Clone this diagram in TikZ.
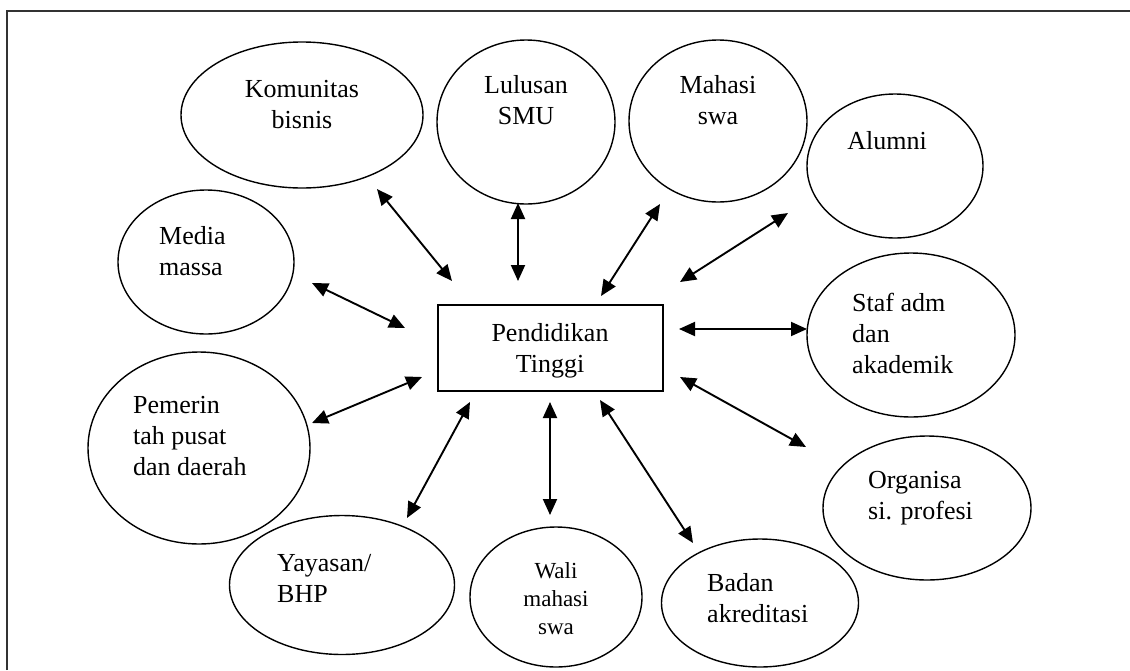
\documentclass[tikz,border=0pt]{standalone}
\usepackage{fontspec}
\setmainfont{Liberation Serif}
\usetikzlibrary{arrows.meta,shapes.geometric}

\tikzset{
  oval/.style={draw, ellipse, inner sep=0pt, line width=1.4pt},
  hubbox/.style={draw, rectangle, inner sep=0pt, line width=1.4pt},
  lbl/.style={inner sep=0pt, font=\fontsize{26}{31}\selectfont},
  lblsmall/.style={inner sep=0pt, font=\fontsize{23}{28}\selectfont},
  link/.style={line width=1.9pt, {Triangle[length=16pt,width=14pt]}-{Triangle[length=16pt,width=14pt]}},
  frameline/.style={line width=1.2pt, draw=black!80}
}

\begin{document}
\begin{tikzpicture}[x=1pt, y=-1pt]
\useasboundingbox (0,0) rectangle (1130,670);

% outer frame (only top and left edges fall inside the page)
\draw[frameline] (7,670) -- (7,11) -- (1130,11);

% central box
\node[hubbox, minimum width=225pt, minimum height=86pt] (pt) at (550.5,348) {};
% multi-line labels are placed by the baseline of their last line
\node[lbl, align=center, anchor=base] (pt-t) at (550,372) {Pendidikan\\Tinggi};

% stakeholder ovals
\node[oval, minimum width=242pt, minimum height=146pt] (kom) at (302,115) {};
\node[oval, minimum width=178pt, minimum height=164pt] (lul) at (526,122) {};
\node[oval, minimum width=178pt, minimum height=162pt] (mah) at (718,121) {};
\node[oval, minimum width=176pt, minimum height=144pt] (alu) at (895,166) {};
\node[oval, minimum width=208pt, minimum height=164pt] (sta) at (911,335) {};
\node[oval, minimum width=208pt, minimum height=144pt] (org) at (927,508) {};
\node[oval, minimum width=222pt, minimum height=192pt] (pem) at (199,448) {};
\node[oval, minimum width=176pt, minimum height=144pt] (med) at (206,262) {};
\node[oval, minimum width=225pt, minimum height=139pt] (yay) at (342,585) {};
\node[oval, minimum width=172pt, minimum height=140pt] (wal) at (556,597) {};
\node[oval, minimum width=197pt, minimum height=128pt] (bad) at (760,603) {};

% labels
\node[lbl, align=center, anchor=base] (kom-t) at (302,128) {Komunitas\\bisnis};
\node[lbl, align=center, anchor=base] (lul-t) at (526,124) {Lulusan\\SMU};
\node[lbl, align=center, anchor=base] (mah-t) at (718,124) {Mahasi\\swa};
\node[lbl, align=center, anchor=base] (alu-t) at (887,149) {Alumni};
\node[lbl, align=left, anchor=base west] (sta-t) at (852,373) {Staf adm\\dan\\akademik};
\node[lbl, align=left, anchor=base west] (org-t) at (868,519) {Organisa\\si. profesi};
\node[lbl, align=left, anchor=base west] (pem-t) at (133,475) {Pemerin\\tah pusat\\dan daerah};
\node[lbl, align=left, anchor=base west] (med-t) at (159,275) {Media\\massa};
\node[lbl, align=left, anchor=base west] (yay-t) at (277,602) {Yayasan/\\BHP};
\node[lblsmall, align=center, anchor=base] (wal-t) at (556,634) {Wali\\mahasi\\swa};
\node[lbl, align=left, anchor=base west] (bad-t) at (707,622) {Badan\\akreditasi};

% arrow end points
\coordinate (kom-e) at (377,189);  \coordinate (pt-kom) at (452,281);
\coordinate (lul-e) at (518,203);  \coordinate (pt-lul) at (518,281);
\coordinate (mah-e) at (660,204);  \coordinate (pt-mah) at (601,296);
\coordinate (alu-e) at (788,213);  \coordinate (pt-alu) at (680,282);
\coordinate (sta-e) at (807,329);  \coordinate (pt-sta) at (679,329);
\coordinate (org-e) at (806,447);  \coordinate (pt-org) at (680,377);
\coordinate (med-e) at (312,283);  \coordinate (pt-med) at (405,328);
\coordinate (pem-e) at (312,423);  \coordinate (pt-pem) at (422,377);
\coordinate (yay-e) at (407,518);  \coordinate (pt-yay) at (470,402);
\coordinate (wal-e) at (550,515);  \coordinate (pt-wal) at (550,402);
\coordinate (bad-e) at (693,543);  \coordinate (pt-bad) at (600,400);

% two-way links
\foreach \n in {kom,lul,mah,alu,sta,org,med,pem,yay,wal,bad}
  \draw[link] (\n-e) -- (pt-\n);

\end{tikzpicture}
\end{document}
